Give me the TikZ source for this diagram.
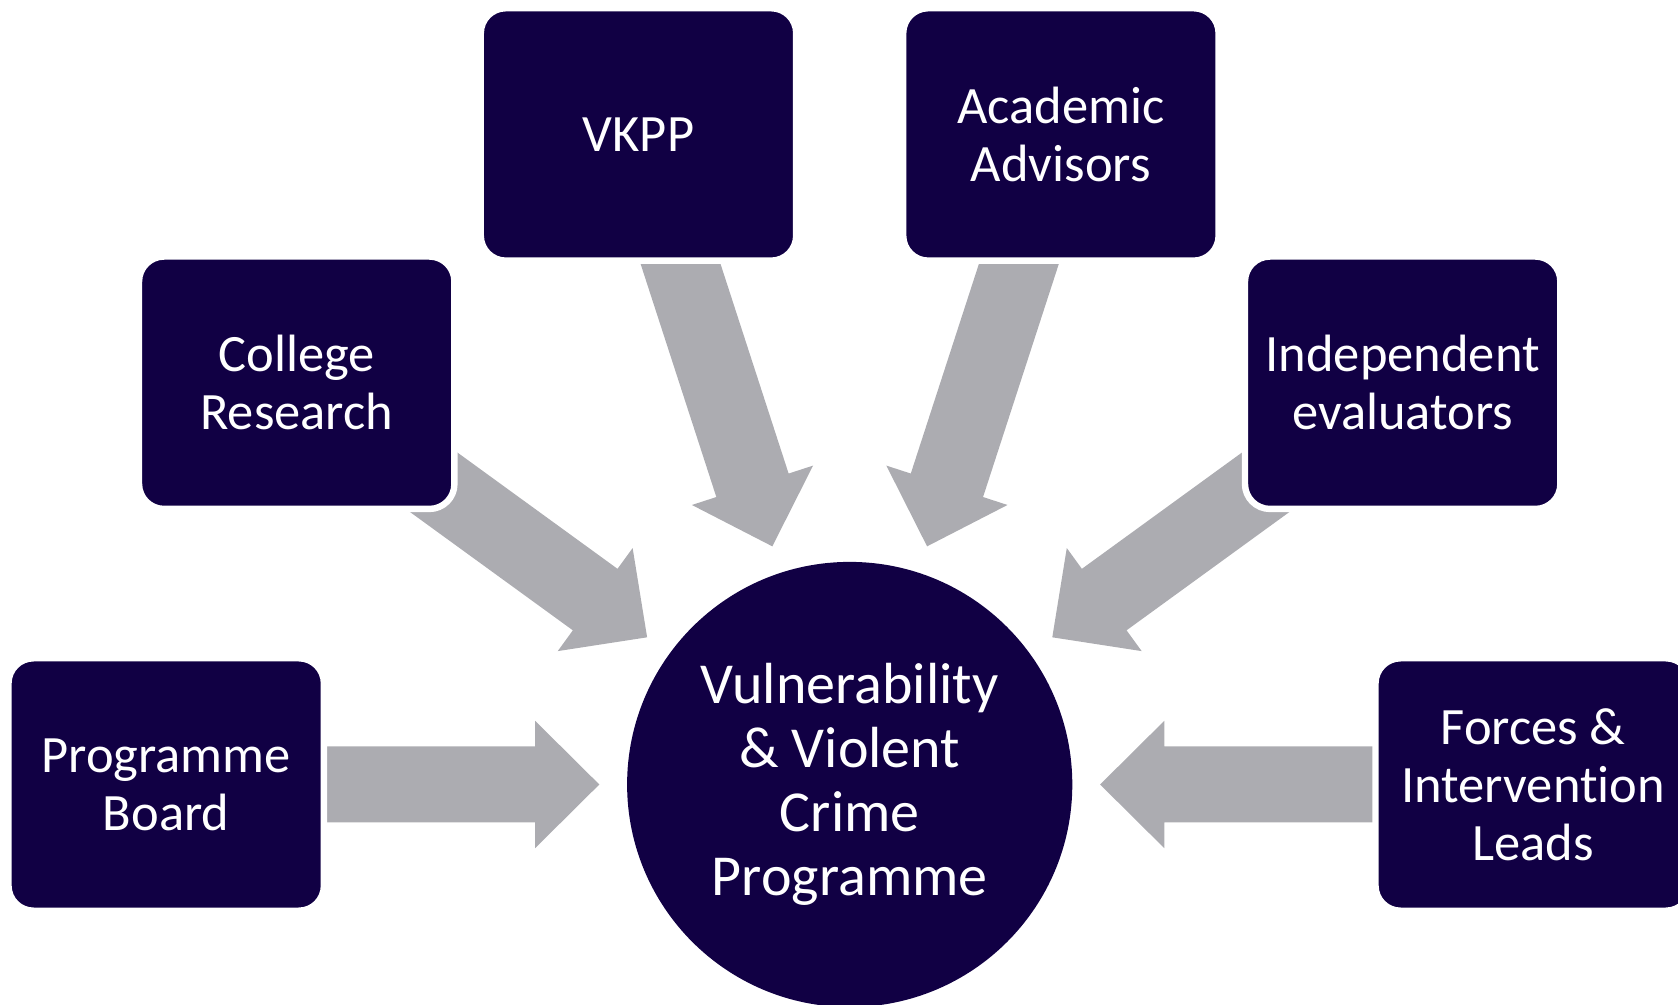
\documentclass[tikz,border=0pt]{standalone}
\usepackage{fontspec}
\setmainfont{Carlito}[Ligatures=NoCommon]
\usetikzlibrary{calc}
\definecolor{navy}{RGB}{17,0,68}
\definecolor{arrowgray}{RGB}{172,172,177}
\begin{document}
\begin{tikzpicture}[x=1pt,y=1pt,
  box/.style={draw=white, line width=6.4pt, fill=navy, rounded corners=25pt,
    minimum width=315.4pt, minimum height=252.4pt, inner sep=0pt,
    text=white, align=center, font=\fontsize{52.5}{58}\selectfont},
  hub/.style={circle, fill=navy, minimum size=445.2pt, inner sep=0pt,
    text=white, align=center, font=\fontsize{58}{64}\selectfont},
  blockarrow/.style={fill=arrowgray}]
\useasboundingbox (0,0) rectangle (1678,1004);
\clip (0,0) rectangle (1678,1004);
\coordinate (ctr) at (849.7,219.5);
% block arrows (drawn first, boxes cover their tails)
\foreach \a in {180,144,108,72,36,0} {
  \fill[blockarrow, shift={(ctr)}, rotate=\a]
    (250.4,0) -- (314.6,63.7) -- (314.6,38) -- (620,38) -- (620,-38)
    -- (314.6,-38) -- (314.6,-63.7) -- cycle;
}
% boxes
\node[box] (pb) at ([shift={(180:683.5)}]ctr) {Programme\\Board};
\node[box] (cr) at ([shift={(144:683.5)}]ctr) {College\\Research};
\node[box] (vk) at ([shift={(108:683.5)}]ctr) {VKPP};
\node[box] (aa) at ([shift={(72:683.5)}]ctr) {Academic\\Advisors};
\node[box] (ie) at ([shift={(36:683.5)}]ctr) {Independent\\evaluators};
\node[box] (fi) at ([shift={(0:683.5)}]ctr) {Forces \&\\Intervention\\Leads};
% hub
\node[hub] (hub) at (ctr) {Vulnerability\\\& Violent\\Crime\\Programme};
\end{tikzpicture}
\end{document}
